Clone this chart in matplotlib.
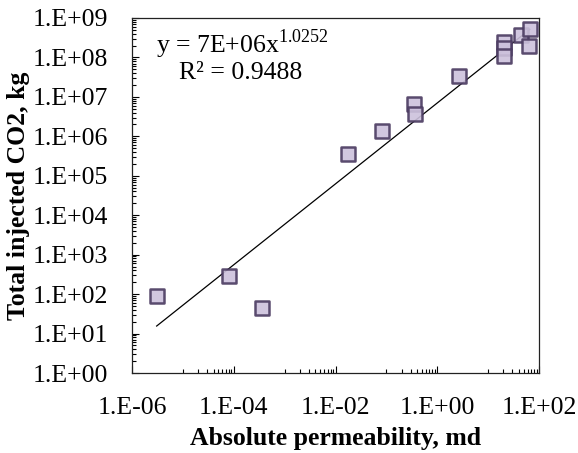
import numpy as np
import matplotlib
matplotlib.use("Agg")
import matplotlib.pyplot as plt
from matplotlib.ticker import FixedLocator, NullFormatter

# permeability (md) vs total injected CO2 (kg)
perm = [3.05e-6, 7.9e-5, 3.6e-4, 0.018, 0.082, 0.35, 0.37, 2.65,
        20.6, 20.6, 20.6, 45.0, 63.0, 66.0]
co2 = [89, 280, 44, 3.5e5, 1.4e6, 6.6e6, 3.7e6, 3.4e7,
       2.5e8, 1.7e8, 1.1e8, 3.6e8, 2.0e8, 5.3e8]

# power-law trend y = a * x^b
coef_a = 7e6
coef_b = 1.0252
r_squared = 0.9488

x_ticks = [1e-6, 1e-4, 1e-2, 1e0, 1e2]
x_tick_labels = ["1.E-06", "1.E-04", "1.E-02", "1.E+00", "1.E+02"]
y_ticks = [10.0 ** k for k in range(10)]
y_tick_labels = ["1.E+%02d" % k for k in range(10)]

plt.rcParams["font.family"] = ["Liberation Serif", "DejaVu Serif"]
plt.rcParams["mathtext.fontset"] = "custom"
plt.rcParams["mathtext.rm"] = "Liberation Serif"

fs = 18.5

fig = plt.figure(figsize=(5.78, 4.53), dpi=100)
ax = fig.add_axes([0.2284, 0.1766, 0.7041, 0.7837])

ax.set_xscale("log")
ax.set_yscale("log")

xs = np.logspace(np.log10(min(perm)), np.log10(max(perm)), 100)
ax.plot(xs, coef_a * xs ** coef_b, color="black", lw=0.9, zorder=2)

ax.scatter(perm, co2, marker="s", s=100, facecolor="#ccc1dc",
           edgecolor="#4a3a60", linewidth=1.8, alpha=0.9, zorder=3)

ax.set_xlim(1e-6, 1e2)
ax.set_ylim(1e0, 1e9)

ax.xaxis.set_major_locator(FixedLocator(x_ticks))
ax.set_xticklabels(x_tick_labels)
ax.yaxis.set_major_locator(FixedLocator(y_ticks))
ax.set_yticklabels(y_tick_labels)

# minor ticks: every 1..9 step in the upper decade of each x label interval
x_minor = [10.0 ** e * k for e in (-5, -3, -1, 1) for k in range(1, 10)]
y_minor = [10.0 ** e * k for e in range(9) for k in range(2, 10)]
ax.xaxis.set_minor_locator(FixedLocator(x_minor))
ax.yaxis.set_minor_locator(FixedLocator(y_minor))
ax.xaxis.set_minor_formatter(NullFormatter())
ax.yaxis.set_minor_formatter(NullFormatter())

ax.tick_params(which="major", direction="in", length=5, width=0.8,
               labelsize=fs)
ax.tick_params(which="minor", direction="in", length=3, width=0.8)
ax.tick_params(axis="x", which="major", pad=17)
ax.tick_params(axis="y", which="major", pad=17)

for sp in ax.spines.values():
    sp.set_linewidth(0.9)
    sp.set_color("#222222")

ax.set_xlabel("Absolute permeability, md", fontsize=fs, fontweight="bold",
              labelpad=6)
ax.set_ylabel("Total injected CO2, kg", fontsize=fs, fontweight="bold",
              labelpad=2)

ax.text(0.06, 0.925, "y = 7E+06x$^{%.4f}$" % coef_b, transform=ax.transAxes,
        fontsize=fs, ha="left", va="center")
ax.text(0.268, 0.845, "R² = %.4f" % r_squared, transform=ax.transAxes,
        fontsize=fs, ha="center", va="center")

fig.savefig("out.png", dpi=100)
